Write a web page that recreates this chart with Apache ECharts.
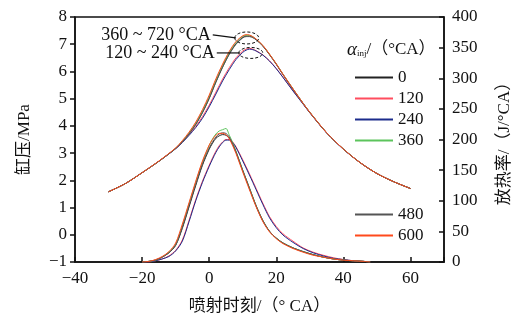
<!DOCTYPE html>
<html><head><meta charset="utf-8">
<script src="https://cdn.jsdelivr.net/npm/echarts/dist/echarts.min.js"></script>
<style>html,body{margin:0;padding:0;background:#fff}#c{width:521px;height:321px}</style>
</head><body><div id="c"></div>
<script>
// ---- data ----
const SERIES_NAMES = ['0', '120', '240', '360', '480', '600'];
const LEGEND_A = ['0', '120', '240', '360'];
const LEGEND_B = ['480', '600'];
const COLORS = ['#222222', '#ff4d5e', '#1c2c8c', '#5cc45c', '#555555', '#ff4a1c'];

// cylinder pressure (MPa) vs crank angle
const P_X   = [-30,-25,-20,-15,-10,-8,-6,-4,-2,0,2,4,6,8,10,11,12,13,14,16,18,20,22,25,28,30,35,40,45,50,55,60];
const P_0   = [1.58,1.88,2.28,2.70,3.17,3.42,3.71,4.06,4.50,5.02,5.62,6.17,6.65,7.02,7.25,7.30,7.30,7.26,7.17,6.94,6.62,6.27,5.89,5.35,4.83,4.50,3.75,3.15,2.65,2.25,1.95,1.70];
const P_120 = [1.58,1.88,2.28,2.70,3.17,3.40,3.68,3.98,4.34,4.76,5.24,5.72,6.14,6.50,6.75,6.82,6.85,6.82,6.76,6.61,6.39,6.11,5.79,5.29,4.81,4.49,3.75,3.15,2.65,2.25,1.95,1.70];
const P_240 = [1.58,1.88,2.28,2.70,3.16,3.39,3.65,3.94,4.28,4.70,5.17,5.65,6.07,6.44,6.70,6.78,6.82,6.80,6.75,6.60,6.38,6.10,5.78,5.28,4.80,4.48,3.74,3.14,2.65,2.25,1.95,1.70];
const P_360 = [1.58,1.88,2.28,2.70,3.18,3.44,3.74,4.10,4.55,5.08,5.68,6.22,6.70,7.07,7.29,7.33,7.32,7.27,7.18,6.95,6.63,6.28,5.90,5.36,4.83,4.50,3.75,3.15,2.65,2.25,1.95,1.70];
const P_480 = [1.58,1.88,2.28,2.70,3.17,3.41,3.70,4.05,4.48,5.00,5.60,6.15,6.63,7.00,7.23,7.28,7.28,7.24,7.16,6.93,6.61,6.26,5.88,5.34,4.82,4.49,3.75,3.15,2.65,2.25,1.95,1.70];
const P_600 = [1.58,1.88,2.28,2.71,3.19,3.46,3.77,4.14,4.60,5.13,5.73,6.27,6.74,7.10,7.31,7.35,7.34,7.28,7.19,6.96,6.63,6.28,5.90,5.36,4.83,4.50,3.75,3.15,2.65,2.25,1.95,1.70];

// heat release rate (J/°CA) vs crank angle
const H_X   = [-20,-18,-16,-14,-12,-10,-8,-6,-4,-2,0,1,2,3,4,5,6,7,8,10,12,14,16,18,20,22,25,28,31,34,37,40,43,46,48];
const H_0   = [0,1,3,8,15,27,55,90,125,158,184,194,202,206,208,207,202,192,179,149,120,91,67,50,39,31,23,17,12,8,5,3,2,1,0];
const H_120 = [0,0,2,5,10,19,36,68,102,132,158,170,181,190,196,200,200,196,188,167,144,120,96,74,58,46,34,23,16,11,7,4,2,1,0];
const H_240 = [0,0,2,5,9,18,34,66,100,130,156,168,179,188,195,199,199,195,187,165,142,118,94,72,56,44,32,22,15,10,6,4,2,1,0];
const H_360 = [0,1,3,8,16,29,59,95,130,163,190,201,209,214,216,218,207,195,181,150,121,92,68,50,39,31,23,17,12,8,5,3,2,1,0];
const H_480 = [0,1,3,8,15,28,57,92,127,160,186,196,204,209,211,210,204,193,180,150,121,92,68,50,39,31,23,17,12,8,5,3,2,1,0];
const H_600 = [0,1,4,9,17,31,62,97,132,165,191,200,207,210,210,208,201,190,177,147,118,90,66,49,38,30,22,16,11,8,5,3,2,1,0];

// annotations: label and the data point the dashed ellipse is centred on
const ANNOT_LABELS = ['360 ~ 720 °CA', '120 ~ 240 °CA'];
const ANNOT_AT = [[11.2, 7.23], [12.4, 6.68]];

const X_AXIS = {min: -40, max: 70, interval: 20};
const YL_AXIS = {min: -1, max: 8, interval: 1};
const YR_AXIS = {min: 0, max: 400, interval: 50};

// ---- chart ----
const FONT = '"Liberation Serif", "Noto Sans CJK SC", serif';
const P_SETS = [P_0, P_120, P_240, P_360, P_480, P_600];
const H_SETS = [H_0, H_120, H_240, H_360, H_480, H_600];
const pair = (xs, ys) => xs.map((x, i) => [x, ys[i]]);

const series = [];
SERIES_NAMES.forEach((n, k) => {
  series.push({name: n, type: 'line', yAxisIndex: 0, data: pair(P_X, P_SETS[k]), symbol: 'none', showSymbol: false, smooth: 0.3,
    lineStyle: {width: 1, color: COLORS[k]}, itemStyle: {color: COLORS[k]}, z: 3});
});
SERIES_NAMES.forEach((n, k) => {
  series.push({name: n, type: 'line', yAxisIndex: 1, data: pair(H_X, H_SETS[k]), symbol: 'none', showSymbol: false, smooth: 0.3,
    lineStyle: {width: 1, color: COLORS[k]}, itemStyle: {color: COLORS[k]}, z: 3});
});

const axisLine = {show: true, onZero: false, lineStyle: {color: '#111', width: 1.5}};
const lbl = {color: '#111', fontFamily: FONT, fontSize: 17};
const minus = v => String(v).replace('-', '\u2212');

const legendCommon = {
  orient: 'vertical', left: 349, itemWidth: 38, itemHeight: 10, itemGap: 4, itemTextGap: 7,
  textStyle: {color: '#111', fontFamily: FONT, fontSize: 17}, lineStyle: {width: 2},
  itemStyle: {opacity: 0, borderWidth: 0}, selectedMode: false
};

const chart = echarts.init(document.getElementById('c'), null, {renderer: 'canvas'});
chart.setOption({
  animation: false,
  backgroundColor: '#fff',
  grid: {left: 75, right: 77, top: 17, bottom: 59, show: true, borderColor: '#111', borderWidth: 1.5, containLabel: false},
  xAxis: {type: 'value', min: X_AXIS.min, max: X_AXIS.max, interval: X_AXIS.interval,
    axisLine, splitLine: {show: false},
    axisTick: {show: true, inside: true, length: 5, lineStyle: {color: '#111', width: 1.5}},
    axisLabel: Object.assign({}, lbl, {margin: 8, formatter: v => (v === 70 ? '' : minus(v))}),
    name: '喷射时刻/（° CA）', nameLocation: 'middle', nameGap: 36,
    nameTextStyle: {color: '#111', fontFamily: FONT, fontSize: 17}},
  yAxis: [
    {type: 'value', position: 'left', min: YL_AXIS.min, max: YL_AXIS.max, interval: YL_AXIS.interval,
      axisLine, splitLine: {show: false},
      axisTick: {show: true, inside: false, length: 5, lineStyle: {color: '#111', width: 1.5}},
      axisLabel: Object.assign({}, lbl, {margin: 8, formatter: v => minus(v)}),
      name: '缸压/MPa', nameLocation: 'middle', nameGap: 42, nameRotate: 90,
      nameTextStyle: {color: '#111', fontFamily: FONT, fontSize: 17}},
    {type: 'value', position: 'right', min: YR_AXIS.min, max: YR_AXIS.max, interval: YR_AXIS.interval,
      axisLine, splitLine: {show: false},
      axisTick: {show: true, inside: true, length: 5, lineStyle: {color: '#111', width: 1.5}},
      axisLabel: Object.assign({}, lbl, {margin: 8}),
      name: '放热率/（J/°CA）', nameLocation: 'middle', nameGap: 52, nameRotate: 90,
      nameTextStyle: {color: '#111', fontFamily: FONT, fontSize: 17}}
  ],
  legend: [
    Object.assign({}, legendCommon, {top: 64, data: LEGEND_A}),
    Object.assign({}, legendCommon, {top: 201, data: LEGEND_B})
  ],
  series
});

// annotations + legend title, anchored through the axes
const els = [];
ANNOT_AT.forEach((at, i) => {
  const [cx, cy] = chart.convertToPixel({xAxisIndex: 0, yAxisIndex: 0}, at);
  const rx = 12, ry = i === 0 ? 6 : 5.5;
  const ty = cy - (i === 0 ? 3 : 0);
  els.push({type: 'ellipse', shape: {cx, cy, rx, ry}, style: {fill: 'none', stroke: '#111', lineWidth: 1, lineDash: [3, 2]}, z: 10});
  els.push({type: 'line', shape: {x1: cx - 34, y1: ty, x2: cx - rx + 1, y2: cy}, style: {stroke: '#111', lineWidth: 1.2}, z: 10});
  els.push({type: 'text', x: cx - 36, y: ty, style: {text: ANNOT_LABELS[i], fontFamily: FONT, fontSize: 18, fill: '#111', align: 'right', verticalAlign: 'middle'}, z: 10});
});
els.push({type: 'text', left: 347, top: 40, style: {
  text: '{a|α}{s|inj}{t|/（°CA）}',
  rich: {a: {fontFamily: FONT, fontStyle: 'italic', fontSize: 19, fill: '#111'},
         s: {fontFamily: FONT, fontSize: 9, fill: '#111', padding: [8, 0, 0, 0]},
         t: {fontFamily: FONT, fontSize: 17, fill: '#111'}}
}, z: 10});
chart.setOption({graphic: els});
</script>
</body></html>
